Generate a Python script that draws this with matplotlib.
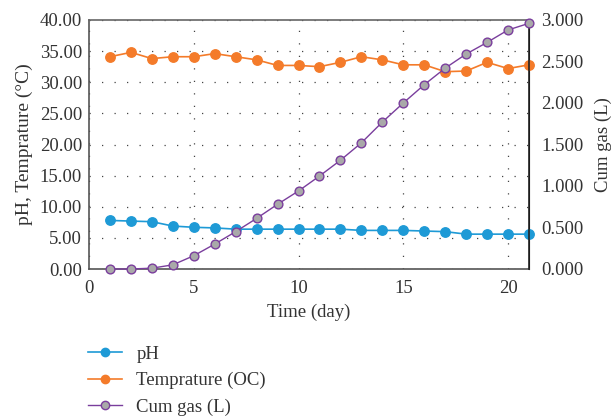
import matplotlib
matplotlib.use("Agg")
import matplotlib.pyplot as plt
from matplotlib.lines import Line2D

days = list(range(1, 22))
ph = [7.8, 7.7, 7.6, 6.9, 6.7, 6.6, 6.4, 6.4, 6.4, 6.4, 6.4, 6.4, 6.2, 6.2, 6.2, 6.1, 6.0, 5.6, 5.6, 5.6, 5.6]
temp = [34.1, 34.8, 33.8, 34.1, 34.1, 34.6, 34.1, 33.6, 32.7, 32.7, 32.5, 33.2, 34.1, 33.6, 32.8, 32.8, 31.7, 31.8, 33.2, 32.2, 32.8]
gas = [0.0, 0.0, 0.01, 0.05, 0.16, 0.30, 0.45, 0.61, 0.78, 0.94, 1.12, 1.31, 1.52, 1.77, 2.00, 2.22, 2.42, 2.59, 2.73, 2.88, 2.96]
left_ticks = [0, 5, 10, 15, 20, 25, 30, 35, 40]
right_ticks = [0, 0.5, 1.0, 1.5, 2.0, 2.5, 3.0]
x_ticks = [0, 5, 10, 15, 20]

plt.rcParams['font.family'] = ['Liberation Serif', 'DejaVu Serif']
fs = 13.5

c_ph = '#1e9ad6'
c_t = '#f47b2a'
c_gas = '#7a3e9d'
c_fill = '#a9a9a9'
txt = '#333333'

fig = plt.figure(figsize=(6.13, 4.2), dpi=100)
ax = fig.add_axes([89/613, 1-269/420, 440/613, 249/420])
ax2 = ax.twinx()

l1, = ax.plot(days, ph, color=c_ph, marker='o', markersize=6.8, lw=1.2, clip_on=False, zorder=3)
l2, = ax.plot(days, temp, color=c_t, marker='o', markersize=6.8, lw=1.2, clip_on=False, zorder=3)
l3, = ax2.plot(days, gas, color=c_gas, marker='o', markersize=6.3, markerfacecolor=c_fill,
               markeredgecolor=c_gas, markeredgewidth=1.0, lw=1.0, clip_on=False, zorder=3)

ax.set_xlim(0, 21)
ax.set_ylim(0, 40)
ax2.set_ylim(0, 3)
ax.set_xticks(x_ticks)
ax.set_yticks(left_ticks)
ax.set_yticklabels([f'{v:.2f}' for v in left_ticks], color=txt)
ax2.set_yticks(right_ticks)
ax2.set_yticklabels([f'{v:,.3f}' for v in right_ticks], color=txt)
ax.set_xticklabels([str(v) for v in x_ticks], color=txt)

for a in (ax, ax2):
    a.tick_params(length=0, labelsize=fs, colors=txt)
ax.tick_params(axis='x', pad=8)
ax.tick_params(axis='y', pad=5)
ax2.tick_params(axis='y', pad=9)

ax.grid(True, color='#444444', linestyle=(0, (1, 9)), linewidth=0.9)
ax.set_axisbelow(True)

for s in ('left', 'bottom'):
    ax.spines[s].set_color('#555555')
    ax.spines[s].set_linewidth(1.2)
ax.spines['top'].set_color('#666666')
ax.spines['top'].set_linewidth(1.2)
ax2.spines['right'].set_color('#222222')
ax2.spines['right'].set_linewidth(1.2)
ax2.spines['top'].set_visible(False)
ax2.spines['left'].set_visible(False)
ax2.spines['bottom'].set_visible(False)

ax.set_xlabel('Time (day)', fontsize=fs, color=txt, labelpad=5)
ax.set_ylabel('pH, Temprature (°C)', fontsize=fs + 0.5, color=txt, labelpad=5)
ax2.set_ylabel('Cum gas (L)', fontsize=fs, color=txt, labelpad=8)

h1 = Line2D([], [], color=c_ph, marker='o', markersize=6, lw=1.2)
h2 = Line2D([], [], color=c_t, marker='o', markersize=6, lw=1.2)
h3 = Line2D([], [], color=c_gas, marker='o', markersize=6, markerfacecolor=c_fill,
            markeredgecolor=c_gas, lw=1.0)
leg = fig.legend([h1, h2, h3], ['pH', 'Temprature (OC)', 'Cum gas (L)'],
                 loc='upper left', bbox_to_anchor=(80/613, 1-338/420), frameon=False,
                 fontsize=fs, handlelength=1.85, labelspacing=0.5, handletextpad=0.75,
                 borderaxespad=0)
for t in leg.get_texts():
    t.set_color(txt)

fig.savefig('out.png', dpi=100)
